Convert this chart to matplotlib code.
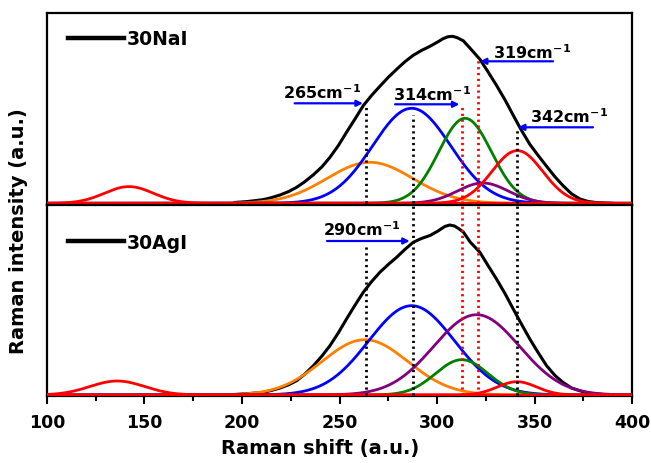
import numpy as np
import matplotlib
matplotlib.use("Agg")
import matplotlib.pyplot as plt
from matplotlib.ticker import MultipleLocator

plt.rcParams['font.family'] = ['DejaVu Sans']
plt.rcParams['font.weight'] = 'bold'
plt.rcParams['mathtext.fontset'] = 'dejavusans'
plt.rcParams['mathtext.default'] = 'bf'

# ---------------- data ----------------
x_min, x_max = 100, 400
x_ticks = [100, 150, 200, 250, 300, 350, 400]

# Fitted Gaussian components: centre, height, width (sigma)
comp_colors = ['#ff8000', '#0000ff', '#008000', '#800080', '#ff0000', '#ff0000']
naI_centres = [265.6, 287, 314.4, 323.5, 341.2, 142]
naI_heights = [41, 95, 85, 20.3, 52.7, 16.7]
naI_sigmas = [22, 20, 13.5, 13, 13, 12.5]

agI_centres = [263, 287, 312.7, 320.3, 341, 136]
agI_heights = [55.3, 89.3, 35.3, 80.3, 13.3, 14]
agI_sigmas = [22, 22, 13.5, 22, 10, 14]

# Measured envelope (black)
naI_env_x = [196, 202.4, 206.5, 210.9, 215, 219.5, 224, 228, 232, 236.6, 241, 245.1,
             249.5, 253.6, 258, 262.2, 266.5, 270.7, 275, 279.3, 283.5, 287.8, 292,
             296.4, 300.5, 303, 305.5, 308, 310.5, 313.5, 317, 322, 326, 330.5, 335,
             339.1, 343, 347.6, 352, 356.2, 360.5, 364.7, 369, 373.3, 377.5, 381.8, 390]
naI_env_y = [0.8, 1.7, 2.6, 3.7, 5.6, 8.3, 11.8, 16, 21.3, 28.5, 36.5, 46,
             58, 71, 84.5, 97.7, 108, 117, 126, 134, 141.5, 148, 152.8,
             157, 161.5, 164.5, 166.5, 167, 165.5, 162.5, 155, 144, 132, 118, 103,
             88, 74, 59, 47.5, 37, 26.5, 17.5, 9.5, 4.3, 1.8, 0.7, 0]
agI_env_x = [196, 202.4, 206.5, 210.9, 215, 219.5, 224, 228, 232, 236.6, 241, 245.1,
             249.5, 253.6, 258, 262.2, 266.5, 270.7, 275, 279.3, 283.5, 287.8, 292,
             296.4, 300.5, 304, 306.5, 309, 311, 313.5, 317, 322, 326, 330.5, 335,
             339.1, 343, 347.6, 352, 356.2, 360.5, 364.7, 369, 373.3, 377.5, 381.8, 390]
agI_env_y = [0.5, 1.3, 1.9, 2.7, 4.5, 7, 10.3, 14.3, 20.5, 29.3, 39, 49.3,
             62.5, 76, 90, 102.7, 113.5, 122.7, 130.5, 137.7, 145.5, 152.7, 156.5,
             159.5, 164, 168.5, 170, 169, 166.5, 163, 153, 142.7, 130, 116, 101,
             86, 72, 56, 42, 29.3, 19.5, 12.5, 7, 4.2, 2, 1, 0]

# Dotted marker lines: position, colour, top in panel (NaI), top in panel (AgI)
mark_pos = [263.5, 287.5, 313, 321, 341]
mark_col = ['black', 'black', '#ff0000', '#ff0000', 'black']
naI_mark_top = [98, 88, 99, 144, 73]
agI_mark_top = [149, 190, 190, 190, 190]

# Annotations: label, text x, text y, arrow tail x, arrow head x, arrow y
naI_labels = ['265', '314', '319', '342']
naI_text_x = [221, 277.5, 328.5, 347.5]
naI_text_y = [112, 110, 152, 88]
naI_arr_from = [227, 278.5, 359.5, 380]
naI_arr_to = [262, 311.5, 322, 341.5]
naI_arr_y = [100, 99, 142, 76]

agI_labels = ['290']
agI_text_x = [241.5]
agI_text_y = [166]
agI_arr_from = [243.6]
agI_arr_to = [286]
agI_arr_y = [154]

# ---------------- figure ----------------
fig = plt.figure(figsize=(6.51, 4.64), dpi=100)
L, R = 47 / 651, 632 / 651
ax_top = fig.add_axes([L, 1 - 206 / 464, R - L, 192 / 464])
ax_bot = fig.add_axes([L, 1 - 397 / 464, R - L, 191 / 464])

xs = np.linspace(x_min, x_max, 1200)


def draw_panel(ax, centres, heights, sigmas, env_x, env_y, mark_top, name, leg_y,
               labels, tx, ty, afrom, ato, ay, ylim):
    ax.plot(env_x, env_y, color='black', lw=2.2, zorder=3,
            solid_joinstyle='round', solid_capstyle='round')
    for c, h, s, col in zip(centres, heights, sigmas, comp_colors):
        ax.plot(xs, h * np.exp(-(xs - c) ** 2 / (2 * s ** 2)), color=col, lw=2.0, zorder=4)
    for p, col, top in zip(mark_pos, mark_col, mark_top):
        ax.plot([p, p], [0, top], color=col, lw=2.0, linestyle=(0, (0.8, 1.3)), zorder=5)
    for lab, x0, y0, a0, a1, yy in zip(labels, tx, ty, afrom, ato, ay):
        ax.text(x0, y0, lab + r'cm$^{\mathbf{-1}}$', fontsize=11.5, fontweight='bold',
                ha='left', va='center', zorder=6)
        ax.annotate('', xy=(a1, yy), xytext=(a0, yy),
                    arrowprops=dict(arrowstyle='-|>', color='#0000ff', lw=1.6,
                                    mutation_scale=9, shrinkA=0, shrinkB=0), zorder=6)
    ax.plot([], [], color='black', lw=3.2, label=name)
    leg = ax.legend(loc='center left', frameon=False, fontsize=13.5, handlelength=3.0,
                    handletextpad=0.15, borderaxespad=0.0, borderpad=0.0,
                    bbox_to_anchor=(0.036, leg_y))
    for t in leg.get_texts():
        t.set_fontweight('bold')
    ax.set_xlim(x_min, x_max)
    ax.set_ylim(*ylim)
    ax.set_yticks([])
    for sp in ax.spines.values():
        sp.set_linewidth(1.6)


draw_panel(ax_top, naI_centres, naI_heights, naI_sigmas, naI_env_x, naI_env_y,
           naI_mark_top, '30NaI', 0.865, naI_labels, naI_text_x, naI_text_y,
           naI_arr_from, naI_arr_to, naI_arr_y, (-1.7, 190.3))
draw_panel(ax_bot, agI_centres, agI_heights, agI_sigmas, agI_env_x, agI_env_y,
           agI_mark_top, '30AgI', 0.806, agI_labels, agI_text_x, agI_text_y,
           agI_arr_from, agI_arr_to, agI_arr_y, (-1.0, 190.0))

ax_top.set_xticks([])
ax_top.tick_params(axis='x', which='both', bottom=False, labelbottom=False)

ax_bot.set_xticks(x_ticks)
ax_bot.xaxis.set_minor_locator(MultipleLocator(25))
ax_bot.tick_params(axis='x', which='major', direction='out', length=6, width=1.5,
                   labelsize=12.5, pad=6)
ax_bot.tick_params(axis='x', which='minor', direction='out', length=3.5, width=1.5)
for lab in ax_bot.get_xticklabels():
    lab.set_fontweight('bold')

fig.text(320 / 651, 1 - 449 / 464, 'Raman shift (a.u.)', ha='center', va='center',
         fontsize=14, fontweight='bold')
fig.text(19 / 651, 1 - 231 / 464, 'Raman intensity (a.u.)', rotation=90,
         ha='center', va='center', fontsize=14, fontweight='bold')

fig.savefig('out.png', dpi=100, facecolor='white')
